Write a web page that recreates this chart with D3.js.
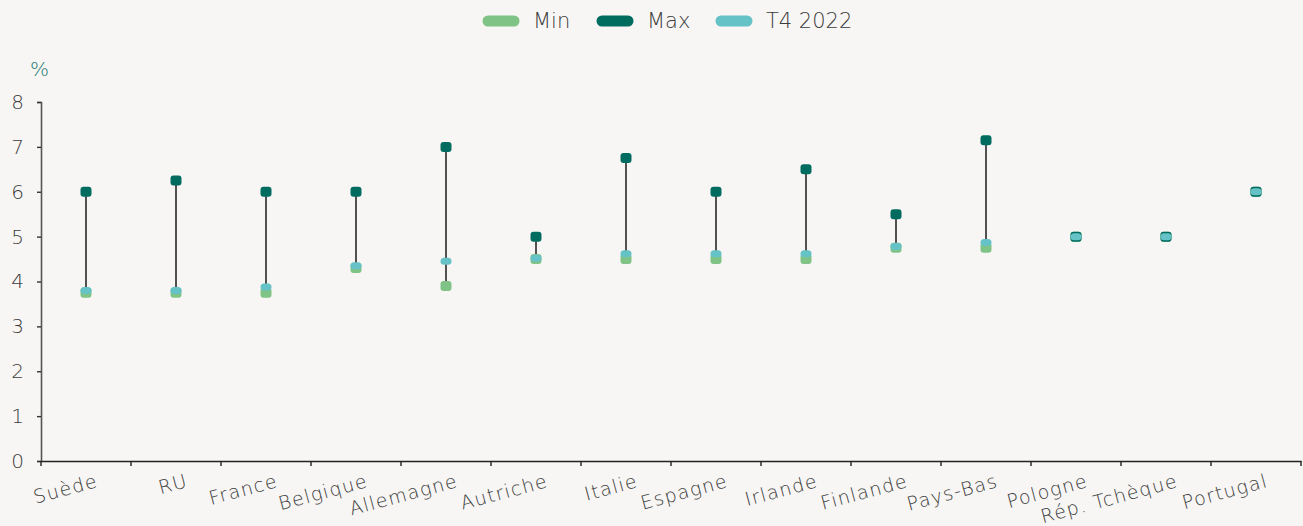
<!DOCTYPE html>
<html>
<head>
<meta charset="utf-8">
<script src="https://cdn.jsdelivr.net/npm/d3@7"></script>
<style>
  body { margin: 0; background: #f7f6f4; }
  svg { display: block; }
  text { font-family: 'DejaVu Sans', sans-serif; font-weight: 200; }
</style>
</head>
<body>
<svg width="1303" height="526"></svg>
<script>
const categories = ['Suède', 'RU', 'France', 'Belgique', 'Allemagne', 'Autriche', 'Italie',
  'Espagne', 'Irlande', 'Finlande', 'Pays-Bas', 'Pologne', 'Rép. Tchèque', 'Portugal'];
const minValues = [3.75, 3.75, 3.75, 4.3, 3.9, 4.5, 4.5, 4.5, 4.5, 4.75, 4.75, 5.0, 5.0, 6.0];
const maxValues = [6.0, 6.25, 6.0, 6.0, 7.0, 5.0, 6.75, 6.0, 6.5, 5.5, 7.15, 5.0, 5.0, 6.0];
const t4Values = [3.8, 3.8, 3.88, 4.35, 4.45, 4.52, 4.62, 4.62, 4.62, 4.78, 4.87, 5.0, 5.0, 6.0];
const seriesNames = ['Min', 'Max', 'T4 2022'];
const yTicks = [0, 1, 2, 3, 4, 5, 6, 7, 8];

const colors = { Min: '#80c386', Max: '#006c60', 'T4 2022': '#65c2c6' };

const svg = d3.select('svg');
const margin = { top: 102, right: 2, bottom: 65, left: 41 };
const width = +svg.attr('width');
const height = +svg.attr('height');
const innerWidth = width - margin.left - margin.right;
const innerHeight = height - margin.top - margin.bottom;

const data = categories.map((c, i) => ({
  cat: c, min: minValues[i], max: maxValues[i], t4: t4Values[i]
}));

const xScale = d3.scaleBand().domain(categories).range([0, innerWidth]);
const yScale = d3.scaleLinear().domain([0, 8]).range([innerHeight, 0]);

const g = svg.append('g')
  .attr('transform', `translate(${margin.left},${margin.top})`);

// y axis
const yAxisG = g.append('g')
  .call(d3.axisLeft(yScale).tickValues(yTicks).tickSize(4).tickPadding(13));
yAxisG.attr('font-family', null);
yAxisG.select('.domain').attr('stroke', '#555').attr('stroke-width', 1.6);
yAxisG.selectAll('.tick line').attr('stroke', '#333').attr('stroke-width', 1.4);
yAxisG.selectAll('.tick text').attr('font-size', 20).attr('fill', '#3c3c3c');

// x axis
const xAxisG = g.append('g')
  .attr('transform', `translate(0,${innerHeight})`)
  .call(d3.axisBottom(xScale).tickSize(0).tickFormat(''));
xAxisG.attr('font-family', null);
xAxisG.select('.domain').attr('stroke', '#222').attr('stroke-width', 1.6);

// category boundary ticks
const bounds = categories.map(c => xScale(c)).concat([innerWidth]);
xAxisG.selectAll('.bound').data(bounds).enter().append('line')
  .attr('class', 'bound')
  .attr('x1', d => d).attr('x2', d => d)
  .attr('y1', 0).attr('y2', 5)
  .attr('stroke', '#222').attr('stroke-width', 1.4);

const cx = d => xScale(d.cat) + xScale.bandwidth() / 2;

// category labels
xAxisG.selectAll('.cat-label').data(data).enter().append('text')
  .attr('class', 'cat-label')
  .attr('text-anchor', 'end')
  .attr('font-size', 19)
  .attr('letter-spacing', 1.2)
  .attr('fill', '#3c3c3c')
  .attr('dy', '0.8em')
  .attr('transform', d => `translate(${cx(d) + 9},11) rotate(-15)`)
  .text(d => d.cat);

// min-max lines
g.selectAll('.range').data(data).enter().append('line')
  .attr('x1', cx).attr('x2', cx)
  .attr('y1', d => yScale(d.min)).attr('y2', d => yScale(d.max))
  .attr('stroke', '#1a1a1a').attr('stroke-width', 1.5);

const marker = (key, name, w, h, rx) => {
  g.selectAll('.m-' + key).data(data).enter().append('rect')
    .attr('x', d => cx(d) - w / 2)
    .attr('y', d => yScale(d[key]) - h / 2)
    .attr('width', w).attr('height', h)
    .attr('rx', rx)
    .attr('fill', colors[name]);
};
marker('min', 'Min', 11, 10, 3);
marker('max', 'Max', 11, 10, 3);
marker('t4', 'T4 2022', 11, 7, 3.5);

// y label
svg.append('text')
  .attr('x', 30).attr('y', 76)
  .attr('font-size', 20)
  .attr('fill', '#1d7670')
  .text('%');

// legend
const legendX = [483, 597, 716];
const legend = svg.append('g');
seriesNames.forEach((name, i) => {
  legend.append('line')
    .attr('x1', legendX[i] + 5).attr('x2', legendX[i] + 31)
    .attr('y1', 21).attr('y2', 21)
    .attr('stroke', colors[name]).attr('stroke-width', 11)
    .attr('stroke-linecap', 'round');
  legend.append('text')
    .attr('x', legendX[i] + 50).attr('y', 28)
    .attr('font-size', 21)
    .attr('fill', '#3c3c3c')
    .text(name);
});
</script>
</body>
</html>
